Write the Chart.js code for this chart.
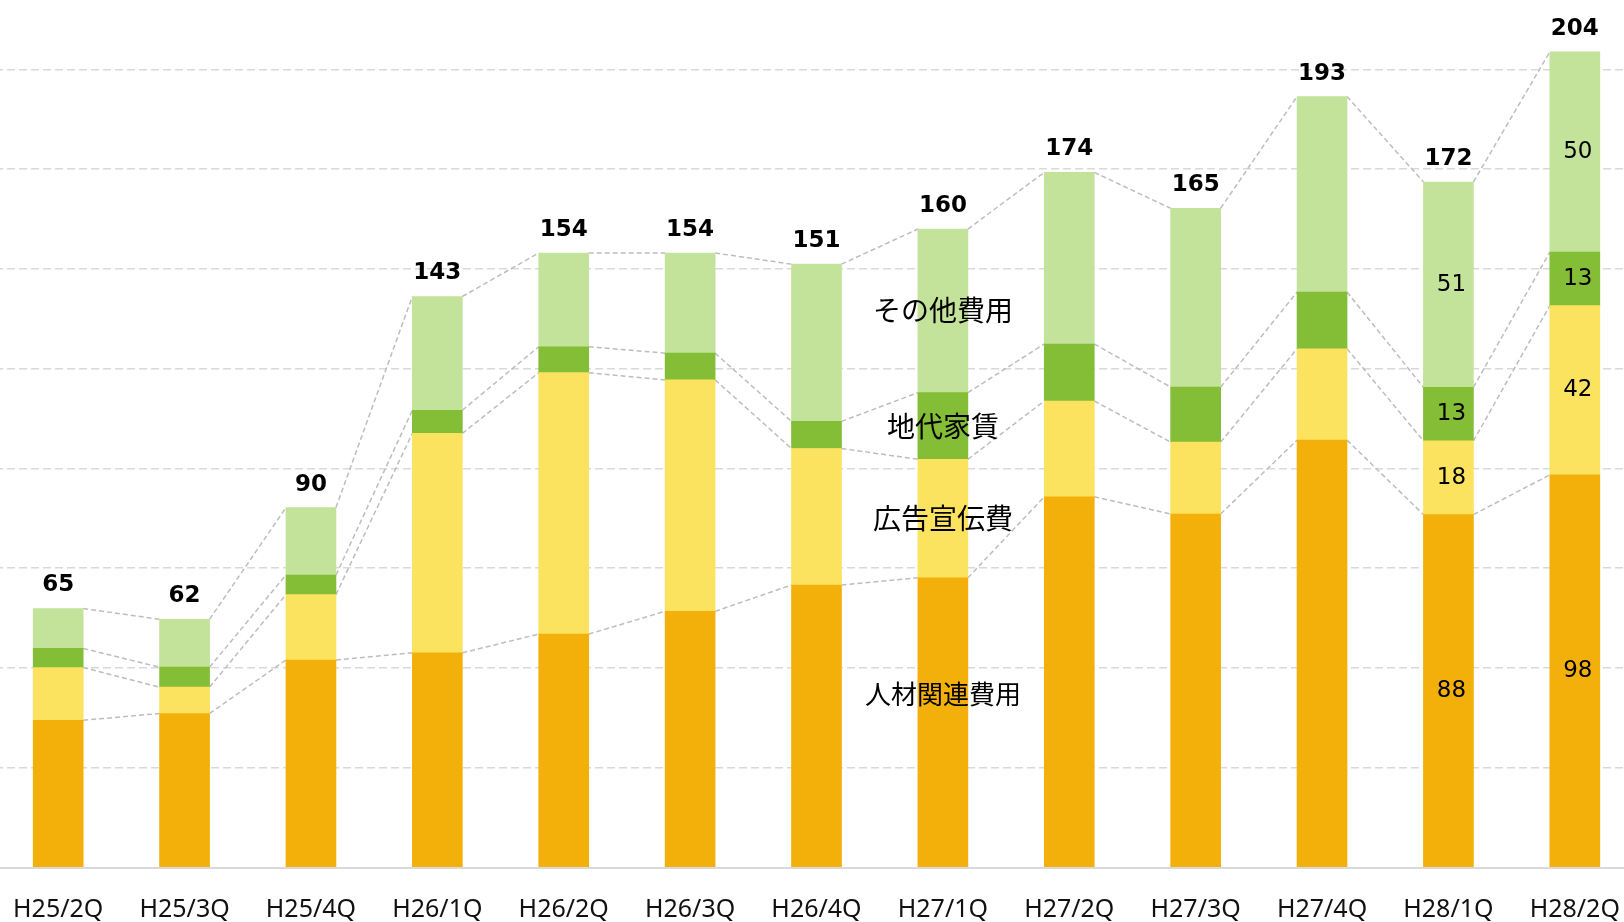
<!DOCTYPE html>
<html>
<head>
<meta charset="utf-8">
<script src="https://cdn.jsdelivr.net/npm/chart.js@4/dist/chart.umd.min.js"></script>
<style>
  html, body { margin: 0; padding: 0; background: #ffffff; overflow: hidden; }
  #wrap { position: absolute; left: -5px; top: 0; width: 1643px; height: 922px; }
</style>
</head>
<body>
<div id="wrap"><canvas id="c" width="1643" height="922"></canvas></div>
<script>
const categories = ['H25/2Q','H25/3Q','H25/4Q','H26/1Q','H26/2Q','H26/3Q','H26/4Q','H27/1Q','H27/2Q','H27/3Q','H27/4Q','H28/1Q','H28/2Q'];
const seriesNames = ['人材関連費用','広告宣伝費','地代家賃','その他費用'];
const personnel   = [36.9, 38.6, 52.0, 53.8, 58.5, 64.2, 70.8, 72.6, 92.9, 88.6, 107.1, 88.45, 98.4];
const advertising = [13.2,  6.6, 16.4, 55.0, 65.5, 58.0, 34.2, 29.7, 24.0, 18.0,  22.9, 18.45, 42.4];
const rent        = [ 4.8,  5.0,  4.9,  5.8,  6.5,  6.7,  6.8, 16.7, 14.3, 13.8,  14.2, 13.45, 13.4];
const other       = [10.0, 12.0, 16.9, 28.5, 23.5, 25.1, 39.4, 41.0, 43.0, 44.8,  49.0, 51.45, 50.2];
const totalLabels = [65, 62, 90, 143, 154, 154, 151, 160, 174, 165, 193, 172, 204];
const valueLabelCategories = ['H28/1Q','H28/2Q'];
const nameLabelCategory = 'H27/1Q';
const yTickStep = 25;

const colors = ['#F3B00B', '#FCE35F', '#84BD36', '#C3E29A'];
const seriesData = [personnel, advertising, rent, other];

const overlayPlugin = {
  id: 'overlay',
  beforeDatasetsDraw(chart) {
    const ctx = chart.ctx;
    ctx.save();
    ctx.strokeStyle = '#BDBDBD';
    ctx.lineWidth = 1.5;
    ctx.setLineDash([5, 3]);
    chart.data.datasets.forEach((ds, di) => {
      const meta = chart.getDatasetMeta(di);
      for (let i = 0; i < meta.data.length - 1; i++) {
        const a = meta.data[i], b = meta.data[i + 1];
        ctx.beginPath();
        ctx.moveTo(a.x + a.width / 2, a.y);
        ctx.lineTo(b.x - b.width / 2, b.y);
        ctx.stroke();
      }
    });
    ctx.restore();
  },
  afterDatasetsDraw(chart) {
    const ctx = chart.ctx;
    ctx.save();
    ctx.textAlign = 'center';
    ctx.textBaseline = 'middle';
    const last = chart.getDatasetMeta(chart.data.datasets.length - 1);
    // totals
    ctx.fillStyle = '#000';
    ctx.font = 'bold 23px "DejaVu Sans"';
    last.data.forEach((el, i) => {
      ctx.fillText(String(totalLabels[i]), el.x, el.y - 23);
    });
    // segment values
    ctx.font = '23px "DejaVu Sans"';
    valueLabelCategories.forEach(cat => {
      const i = categories.indexOf(cat);
      chart.data.datasets.forEach((ds, di) => {
        const el = chart.getDatasetMeta(di).data[i];
        ctx.fillText(String(Math.round(ds.data[i])), el.x + 3, (el.y + el.base) / 2);
      });
    });
    // series names
    const ni = categories.indexOf(nameLabelCategory);
    chart.data.datasets.forEach((ds, di) => {
      const el = chart.getDatasetMeta(di).data[ni];
      const first = di === 0;
      ctx.font = (first ? '26px' : '28px') + ' "Noto Sans CJK JP"';
      ctx.fillText(ds.label, el.x, (el.y + el.base) / 2 + (first ? -28 : 0));
    });
    ctx.restore();
  }
};

new Chart(document.getElementById('c'), {
  type: 'bar',
  data: {
    labels: categories,
    datasets: seriesData.map((d, k) => ({
      label: seriesNames[k],
      data: d,
      backgroundColor: colors[k],
      borderWidth: 0,
      barThickness: 50
    }))
  },
  options: {
    responsive: false,
    animation: false,
    layout: { padding: { top: 0, bottom: 0, left: 0, right: 0 } },
    plugins: { legend: { display: false }, tooltip: { enabled: false } },
    scales: {
      x: {
        stacked: true,
        grid: { display: false, drawTicks: false },
        border: { display: true, color: '#D9D9D9', width: 2 },
        ticks: { color: '#111', font: { family: '"Noto Sans"', size: 25 }, padding: 27, maxRotation: 0, autoSkip: false },
        afterFit: s => { s.height = 54.5; s.paddingLeft = 0; s.paddingRight = 0; }
      },
      y: {
        stacked: true,
        min: 0,
        max: 217.4,
        afterBuildTicks: s => { s.ticks = s.ticks.filter(t => t.value % yTickStep === 0); },
        ticks: { display: false, stepSize: yTickStep },
        grid: {
          drawTicks: false,
          color: c => (c.tick && c.tick.value === 0) ? 'rgba(0,0,0,0)' : '#D9D9D9',
          lineWidth: 1.5
        },
        border: { display: false, dash: [8, 4] },
        afterFit: s => { s.width = 0; s.paddingTop = 0; s.paddingBottom = 0; }
      }
    }
  },
  plugins: [overlayPlugin]
});
</script>
</body>
</html>
